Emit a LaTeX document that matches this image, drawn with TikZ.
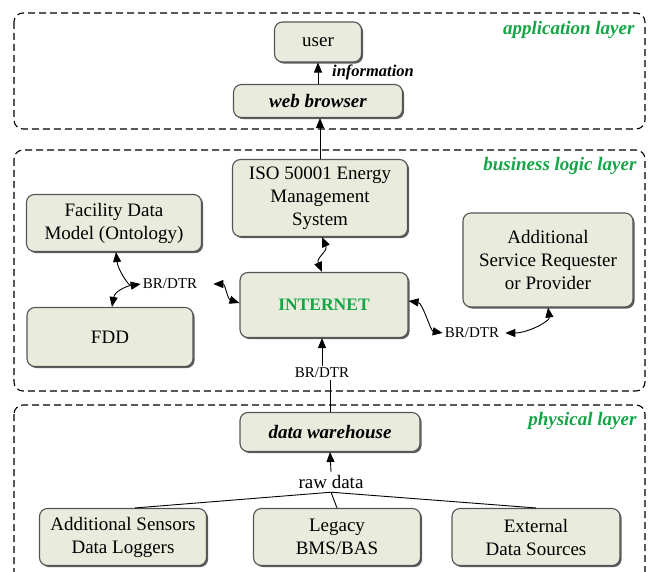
\documentclass[tikz,border=0pt]{standalone}
\usepackage{fontspec}
\setmainfont{Liberation Serif}
\usetikzlibrary{arrows.meta,shadows}

\definecolor{boxfill}{RGB}{233,236,221}
\definecolor{boxline}{RGB}{85,85,85}
\definecolor{layergreen}{RGB}{20,165,70}

\tikzset{
	block/.style={draw=boxline, line width=1.1pt, fill=boxfill, rounded corners=8pt,
		align=center, font=\fontsize{19}{23}\selectfont,
		drop shadow={shadow xshift=1.6pt, shadow yshift=-1.6pt, fill=black!75, opacity=0.85}},
	layer/.style={draw, dash pattern=on 7pt off 4pt, line width=1.1pt, rounded corners=9pt},
	layername/.style={anchor=east, text=layergreen, font=\fontsize{19}{22}\selectfont\bfseries\itshape},
	link/.style={line width=0.9pt},
	tip/.style={link, -{Triangle[length=10pt,width=8pt]}},
	tips/.style={link, {Triangle[length=10pt,width=8pt]}-{Triangle[length=10pt,width=8pt]}},
	brdtr/.style={inner sep=2pt, font=\fontsize{15}{17}\selectfont},
}

\begin{document}
\begin{tikzpicture}[x=1pt,y=-1pt]
	\useasboundingbox (0,0) rectangle (651,572);
	\clip (0,0) rectangle (651,572);

	% layers
	\draw[layer] (14,13) rectangle (645,129);
	\draw[layer] (14,150) rectangle (645,391);
	\draw[layer] (14,405) rectangle (645,600);
	\node[layername] (applayer) at (638,30) {application layer};
	\node[layername] (buslayer) at (640,166) {business logic layer};
	\node[layername] (phylayer) at (640,421) {physical layer};

	% application layer
	\node[block, minimum width=87pt, minimum height=40pt] (user) at (318,42) {user};
	\node[block, minimum width=169pt, minimum height=33pt, font=\fontsize{19}{22}\selectfont\bfseries\itshape] (browser) at (318,101) {web browser};
	\node[font=\fontsize{16.5}{18}\selectfont\bfseries\itshape] (info) at (373,72) {information};

	% business logic layer
	\node[block, minimum width=175pt, minimum height=77pt] (iso) at (320,198) {ISO 50001 Energy\\Management\\System};
	\node[block, minimum width=168pt, minimum height=65pt, text=layergreen, font=\fontsize{17.5}{20}\selectfont\bfseries] (internet) at (324,305) {INTERNET};
	\node[block, minimum width=175pt, minimum height=57pt] (fdm) at (114,223) {Facility Data\\Model (Ontology)};
	\node[block, minimum width=166pt, minimum height=59pt] (fdd) at (110,337) {FDD};
	\node[block, minimum width=170pt, minimum height=94pt] (asr) at (548,260) {Additional\\Service Requester\\or Provider};
	\node[brdtr] (br1) at (170,284) {BR/DTR};
	\node[brdtr] (br2) at (472,333) {BR/DTR};
	\node[brdtr] (br3) at (322,373) {BR/DTR};

	% physical layer
	\node[block, minimum width=180pt, minimum height=39pt, font=\fontsize{19}{22}\selectfont\bfseries\itshape] (dw) at (330,432) {data warehouse};
	\node[font=\fontsize{19}{22}\selectfont] (raw) at (331,482) {raw data};
	\node[block, minimum width=167pt, minimum height=57pt] (sens) at (123,537) {Additional Sensors\\Data Loggers};
	\node[block, minimum width=167pt, minimum height=57pt] (legacy) at (337,537) {Legacy\\BMS/BAS};
	\node[block, minimum width=168pt, minimum height=57pt] (ext) at (536,537) {External\\Data Sources};

	% connectors
	\draw[tip] (browser.north) -- (user.south);
	\draw[tip] (iso.north) -- (iso.north |- browser.south);
	\draw[tips] ([xshift=2pt]iso.south) .. controls +(6,14) and +(-6,-14) .. ([xshift=-2pt]internet.north);
	\draw[tips] ([xshift=2pt]fdm.south) .. controls +(2,18) and +(-12,2) .. (br1.west);
	\draw[tip] ([xshift=-9pt,yshift=-1pt]br1.west) .. controls +(-14,4) and +(2,-12) .. ([xshift=2pt]fdd.north);
	\draw[tips] ([xshift=14pt]br1.east) .. controls +(12,0) and +(-12,-4) .. ([yshift=2pt]internet.west);
	\draw[tips] ([yshift=4pt]internet.east) .. controls +(14,2) and +(-12,-2) .. (br2.west);
	\draw[tips] ([xshift=4pt]br2.east) .. controls +(22,0) and +(2,14) .. (asr.south);
	\draw[tip] (br3.north) -- (br3.north |- internet.south);
	\draw[link] (br3.south -| dw.north) -- (dw.north);
	\draw[tip] (raw.north) -- (dw.south);
	\draw[link] (raw.south) -- ([xshift=12pt]sens.north);
	\draw[link] (raw.south) -- (legacy.north);
	\draw[link] (raw.south) -- (ext.north);
\end{tikzpicture}
\end{document}
